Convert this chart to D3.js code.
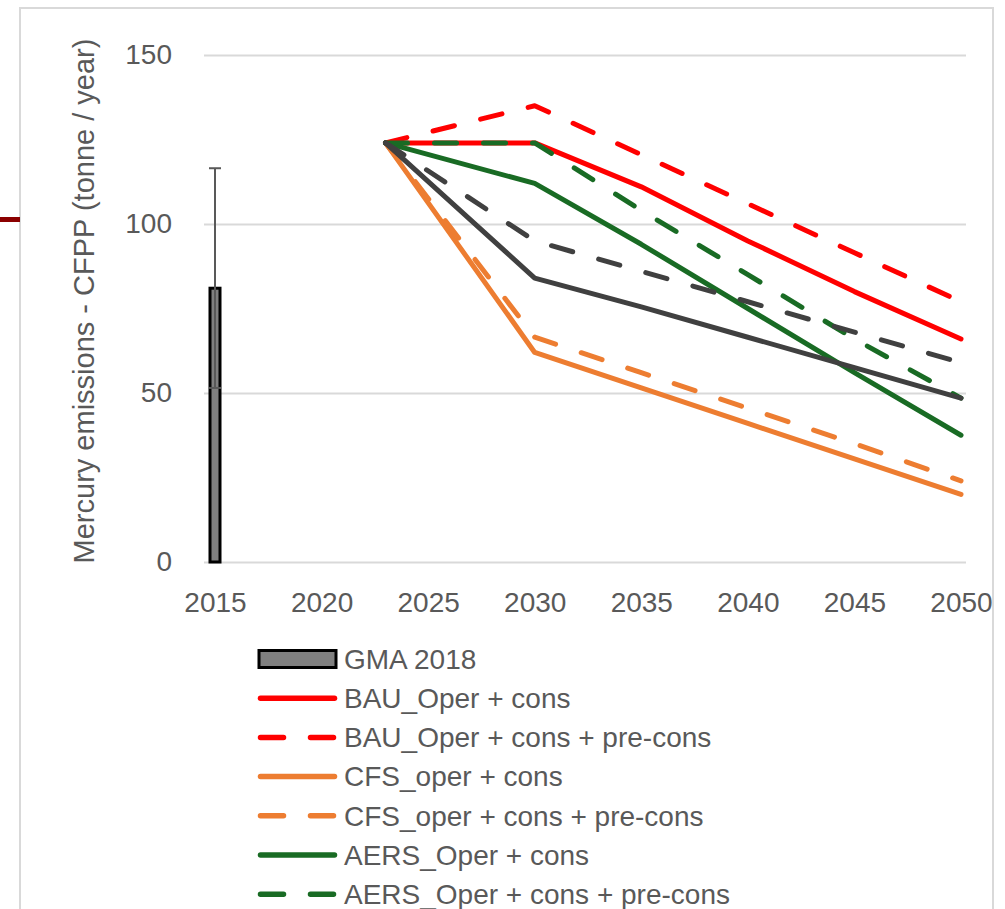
<!DOCTYPE html>
<html>
<head>
<meta charset="utf-8">
<script src="https://cdn.jsdelivr.net/npm/d3@7"></script>
<style>
  body { margin: 0; background: #fff; }
  svg { display: block; }
  text { font-family: "Liberation Sans", Arial, sans-serif; fill: #595959; }
</style>
</head>
<body>
<svg id="chart" width="1005" height="909"></svg>
<script>
// data
const years = [2023, 2030, 2035, 2040, 2045, 2050];
const bauOper = [124, 124, 111, 95, 80, 66];
const bauPre = [124, 135, 120.5, 106, 91.5, 77];
const cfsOper = [124, 62, 51.5, 41, 30.5, 20];
const cfsPre = [124, 66.5, 56, 45.5, 35, 24];
const aersOper = [124, 112, 94, 75, 56, 37.5];
const aersPre = [124, 124, 104, 85, 66, 48.5];
const greyOper = [124, 84, 75.5, 66.5, 57.5, 48.5];
const greyPre = [124, 95, 86, 77, 68, 59];

const gmaYear = 2015;
const gmaValue = 81;
const gmaLow = 51.5;
const gmaHigh = 116.5;

const xTicks = [2015, 2020, 2025, 2030, 2035, 2040, 2045, 2050];
const yTicks = [0, 50, 100, 150];

const series = [
  { name: 'BAU_Oper + cons', values: bauOper, color: '#ff0000', dash: null },
  { name: 'BAU_Oper + cons + pre-cons', values: bauPre, color: '#ff0000', dash: '22,27' },
  { name: 'CFS_oper + cons', values: cfsOper, color: '#ed7d31', dash: null },
  { name: 'CFS_oper + cons + pre-cons', values: cfsPre, color: '#ed7d31', dash: '22,27' },
  { name: 'AERS_Oper + cons', values: aersOper, color: '#196b24', dash: null },
  { name: 'AERS_Oper + cons + pre-cons', values: aersPre, color: '#196b24', dash: '22,27' },
  { name: null, values: greyOper, color: '#404040', dash: null },
  { name: null, values: greyPre, color: '#404040', dash: '22,27' }
];

const svg = d3.select('#chart');

// outer chart frame
svg.append('rect')
  .attr('x', 20).attr('y', 8)
  .attr('width', 973).attr('height', 960)
  .attr('fill', 'none')
  .attr('stroke', '#d9d9d9')
  .attr('stroke-width', 2);
svg.append('rect')
  .attr('x', 0).attr('y', 217)
  .attr('width', 20).attr('height', 5)
  .attr('fill', '#8b0000');

const plotLeft = 204, plotRight = 966;

const x = d3.scaleLinear().domain([2015, 2050]).range([215, 961]);
const y = d3.scaleLinear().domain([0, 150]).range([562, 55]);

// gridlines + y labels
const yAxis = svg.append('g')
  .attr('transform', `translate(${plotLeft},0)`)
  .call(d3.axisLeft(y).tickValues(yTicks).tickSize(-(plotRight - plotLeft)).tickPadding(32));
yAxis.select('.domain').remove();
yAxis.selectAll('line').attr('stroke', '#d9d9d9').attr('stroke-width', 2);
yAxis.selectAll('text').style('font-size', '28px').attr('fill', '#595959');

// x labels
const xAxis = svg.append('g')
  .attr('transform', 'translate(0,562)')
  .call(d3.axisBottom(x).tickValues(xTicks).tickFormat(d3.format('d')).tickSize(0).tickPadding(30));
xAxis.select('.domain').remove();
xAxis.selectAll('text').style('font-size', '28px').attr('fill', '#595959');

// axis title
svg.append('text')
  .attr('transform', 'rotate(-90)')
  .attr('x', -301)
  .attr('y', 94)
  .attr('text-anchor', 'middle')
  .style('font-size', '29px')
  .text('Mercury emissions - CFPP (tonne / year)');

// GMA 2018 bar with error bar
const barW = 10;
svg.append('rect')
  .attr('x', x(gmaYear) - barW / 2)
  .attr('y', y(gmaValue))
  .attr('width', barW)
  .attr('height', y(0) - y(gmaValue))
  .attr('fill', '#808080')
  .attr('stroke', '#000')
  .attr('stroke-width', 3);

const eb = svg.append('g').attr('stroke', '#595959').attr('stroke-width', 2);
eb.append('line')
  .attr('x1', x(gmaYear)).attr('x2', x(gmaYear))
  .attr('y1', y(gmaLow)).attr('y2', y(gmaHigh));
[gmaLow, gmaHigh].forEach(v => {
  eb.append('line')
    .attr('x1', x(gmaYear) - 6).attr('x2', x(gmaYear) + 6)
    .attr('y1', y(v)).attr('y2', y(v));
});

// scenario lines
const line = d3.line()
  .x((d, i) => x(years[i]))
  .y(d => y(d));

svg.selectAll('path.series')
  .data(series)
  .enter()
  .append('path')
  .attr('class', 'series')
  .attr('d', s => line(s.values))
  .attr('fill', 'none')
  .attr('stroke', s => s.color)
  .attr('stroke-width', 5)
  .attr('stroke-linejoin', 'round')
  .attr('stroke-linecap', 'round')
  .attr('stroke-dasharray', s => s.dash);

// legend
const legX = 258, legY0 = 659, legStep = 39.2;
const legend = svg.append('g');

legend.append('rect')
  .attr('x', legX + 1).attr('y', legY0 - 8.5)
  .attr('width', 77).attr('height', 17)
  .attr('fill', '#808080')
  .attr('stroke', '#000')
  .attr('stroke-width', 3);
legend.append('text')
  .attr('x', 344).attr('y', legY0)
  .attr('dy', '0.35em')
  .style('font-size', '28px')
  .text('GMA 2018');

series.filter(s => s.name).forEach((s, i) => {
  const ly = legY0 + legStep * (i + 1);
  legend.append('line')
    .attr('x1', legX + 2.5).attr('x2', legX + 76.5)
    .attr('y1', ly).attr('y2', ly)
    .attr('stroke', s.color)
    .attr('stroke-width', 5.5)
    .attr('stroke-linecap', 'round')
    .attr('stroke-dasharray', s.dash ? '23,27' : null);
  legend.append('text')
    .attr('x', 344).attr('y', ly)
    .attr('dy', '0.35em')
    .style('font-size', '28px')
    .text(s.name);
});
</script>
</body>
</html>
